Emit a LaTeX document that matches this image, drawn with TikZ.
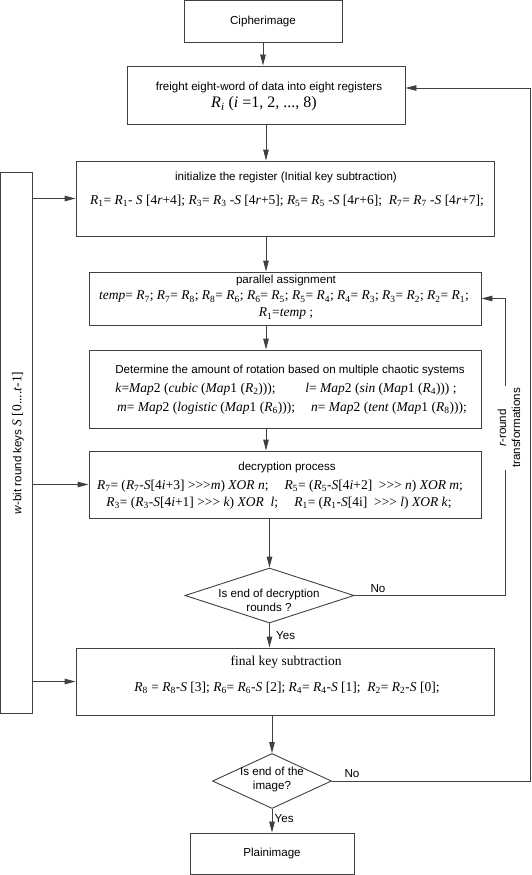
\documentclass[tikz,border=0pt]{standalone}
\usepackage{fontspec}
\setmainfont{Liberation Sans}
\newfontfamily\tms{Liberation Serif}
\usetikzlibrary{arrows.meta,shapes.geometric}
\newcommand\Rr[1]{\textit{R}\textsubscript{#1}}
\newcommand\It[1]{\textit{#1}}
\begin{document}
\begin{tikzpicture}[x=1pt,y=-1pt,
  ln/.style={draw=black!75, line width=0.9pt},
  box/.style={ln, rectangle, inner sep=0pt, font=\fontsize{11.6}{13}\selectfont},
  dia/.style={ln, diamond, inner sep=0pt},
  arr/.style={ln, -{Triangle[length=11pt,width=5.5pt]}},
  sf/.style={inner sep=0pt, font=\fontsize{11.6}{14}\selectfont, align=center},
  tm/.style={inner sep=0pt, font=\tms\fontsize{13.5}{15}\selectfont},
  tmb/.style={inner sep=0pt, font=\tms\fontsize{16}{18}\selectfont}]
\useasboundingbox (0,0) rectangle (532,875);

% boxes
\node[box, minimum width=158, minimum height=42] (ci) at (263,21.5) {Cipherimage};
\node[box, minimum width=278, minimum height=58] (b2) at (266,95) {};
\node[box, minimum width=418, minimum height=75] (b3) at (285,198.5) {};
\node[box, minimum width=392, minimum height=53] (b4) at (285,298.5) {};
\node[box, minimum width=392, minimum height=78] (b5) at (285,389) {};
\node[box, minimum width=392, minimum height=67] (b6) at (285,484.5) {};
\node[dia, minimum width=169, minimum height=55] (d1) at (269.5,595.5) {};
\node[box, minimum width=418, minimum height=67] (b7) at (285,681.5) {};
\node[dia, minimum width=119, minimum height=55] (d2) at (272,781) {};
\node[box, minimum width=164, minimum height=41] (pl) at (272,853.5) {Plainimage};
\node[box, minimum width=31.5, minimum height=541] (kb) at (16.25,442.5) {};

% texts
\node[sf] (t2a) at (269,88) {freight eight-word of data into eight registers};
\node[tmb] (t2b) at (264,104) {\It{R}\textsubscript{\It{i}} (\It{i} =1, 2, ..., 8)};
\node[sf] (t3a) at (286,177) {initialize the register (Initial key subtraction)};
\node[tm] (t3b) at (287,201) {\Rr{1}= \Rr{1}- \It{S} [4\It{r}+4]; \Rr{3}= \Rr{3} -\It{S} [4\It{r}+5]; \Rr{5}= \Rr{5} -\It{S} [4\It{r}+6];\ \ \Rr{7}= \Rr{7} -\It{S} [4\It{r}+7];};
\node[sf] (t4a) at (286,280) {parallel assignment};
\node[tm] (t4b) at (284,297) {\It{temp}= \Rr{7}; \Rr{7}= \Rr{8}; \Rr{8}= \Rr{6}; \Rr{6}= \Rr{5}; \Rr{5}= \Rr{4}; \Rr{4}= \Rr{3}; \Rr{3}= \Rr{2}; \Rr{2}= \Rr{1};};
\node[tm] (t4c) at (286,314) {\Rr{1}=\It{temp} ;};
\node[sf] (t5a) at (290,370) {Determine the amount of rotation based on multiple chaotic systems};
\node[tm] (t5b) at (286,389) {\It{k}=\It{Map}2 (\It{cubic} (\It{Map}1 (\Rr{2})));\hspace{2.2em}\It{l}= \It{Map}2 (\It{sin} (\It{Map}1 (\Rr{4}))) ;};
\node[tm] (t5c) at (292,408) {\It{m}= \It{Map}2 (\It{logistic} (\It{Map}1 (\Rr{6})));\hspace{1.2em}\It{n}= \It{Map}2 (\It{tent} (\It{Map}1 (\Rr{8})));};
\node[sf] (t6a) at (287,467) {decryption process};
\node[tm] (t6b) at (280,486) {\Rr{7}= (\Rr{7}-\It{S}[4\It{i}+3] >>>\It{m}) \It{XOR n};\hspace{1.2em}\Rr{5}= (\Rr{5}-\It{S}[4\It{i}+2]\ \ >>> \It{n}) \It{XOR m};};
\node[tm] (t6c) at (279,503) {\Rr{3}= (\Rr{3}-\It{S}[4\It{i}+1] >>> \It{k}) \It{XOR\ \ l};\hspace{1.2em}\Rr{1}= (\Rr{1}-\It{S}[4i]\ \ >>> \It{l}) \It{XOR k};};
\node[sf] (t7a) at (269,600) {Is end of decryption\\rounds ?};
\node[tm] (t8a) at (286,662) {final key subtraction};
\node[tm] (t8b) at (287,688) {\Rr{8} = \Rr{8}-\It{S} [3]; \Rr{6}= \Rr{6}-\It{S} [2]; \Rr{4}= \Rr{4}-\It{S} [1];\ \ \Rr{2}= \Rr{2}-\It{S} [0];};
\node[sf] (t9a) at (272,779.5) {Is end of the\\image?};
\node[sf, rotate=90] (tk) at (18,443) {\It{w}-bit round keys {\tms\fontsize{13.5}{15}\selectfont\It{S} [0....\It{t}-1]}};

% main column
\draw[arr] (ci.south) -- (ci.south |- b2.north);
\draw[arr] (b2.south) -- (b2.south |- b3.north);
\draw[arr] (b3.south -| b2.south) -- (b4.north -| b2.south);
\draw[arr] (b4.south -| b2.south) -- (b5.north -| b2.south);
\draw[arr] (b5.south -| b2.south) -- (b6.north -| b2.south);
\draw[arr] (b6.south -| d1.north) -- (d1.north);
\draw[arr] (d1.south) -- (d1.south |- b7.north);
\draw[arr] (b7.south -| d2.north) -- (d2.north);
\draw[arr] (d2.south) -- (pl.north);
\node[sf, anchor=west] (y1) at (276,636) {Yes};
\node[sf, anchor=west] (y2) at (274.5,819) {Yes};

% key arrows
\draw[arr] (kb.east |- b3.west) -- (b3.west);
\draw[arr] (kb.east |- b6.west) -- (b6.west);
\draw[arr] (kb.east |- b7.west) -- (b7.west);

% loops
\coordinate (r1) at (505,298.5);
\draw[arr] (d1.east) -| (r1) -- (b4.east);
\node[sf] (n1) at (378,589) {No};
\node[sf, rotate=90, fill=white, inner sep=2pt] (tr) at (509,428) {\It{r}-round\\transformations};
\coordinate (r2) at (530,88);
\draw[arr] (d2.east) -| (r2) -- (r2 -| b2.east);
\node[sf] (n2) at (352,774) {No};
\end{tikzpicture}
\end{document}
